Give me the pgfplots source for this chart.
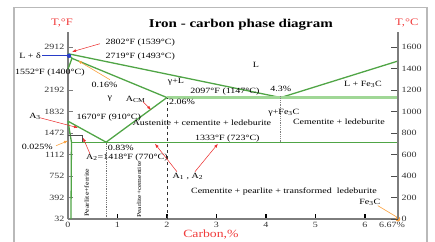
\documentclass[border=0pt]{standalone}
\usepackage{fontspec}
\setmainfont[FakeStretch=1.25]{Liberation Serif}
\usepackage{pgfplots}
\pgfplotsset{compat=1.18}
\usetikzlibrary{arrows.meta}
\definecolor{grn}{RGB}{80,165,70}
\definecolor{lgrn}{RGB}{160,215,150}
\definecolor{arr}{RGB}{235,40,40}
\definecolor{org}{RGB}{250,160,60}
\definecolor{blu}{RGB}{40,60,200}
\definecolor{axg}{RGB}{125,125,125}
\definecolor{ttl}{RGB}{240,60,60}
\definecolor{txt}{RGB}{50,50,50}
\begin{document}
\begin{tikzpicture}[font=\fontsize{8}{9}\selectfont]
\path[use as bounding box] (-68pt,-22pt) rectangle (367pt,219pt);
\begin{axis}[at={(0,0)}, anchor=south west, scale only axis, width=330pt, height=187pt,
 xmin=0, xmax=6.67, ymin=0, ymax=1740, clip=false,
 axis x line=bottom, axis y line=left, axis line style={-, axg, line width=1.3pt},
 xtick={0,1,2,3,4,5,6,6.67}, xticklabels={0,1,2,3,4,5,6,{\raisebox{-2pt}{\hspace*{-12pt}6.67\%}}},
 ytick={0,200,400,600,800,1000,1200,1600},
 yticklabels={32,392,752,1112,1472,1832,2192,2912},
 tick align=inside,
 x tick style={black, line width=1.5pt}, y tick style={axg, line width=1pt},
 major tick length=5pt,
 tick label style={font=\fontsize{8}{9}\selectfont, text=txt},
 /pgf/number format/assume math mode=true,
 every node/.append style={text=txt},
]
% phase boundaries
\addplot[grn, line width=1.3pt] coordinates {(0,1538) (4.3,1130) (6.67,1470)};
\addplot[grn, line width=1.3pt] coordinates {(0.08,1495) (2.0,1130)};
\addplot[grn, line width=1.3pt] coordinates {(0,1394) (0.08,1495) (0,1538)};
\addplot[grn, line width=1.3pt] coordinates {(0,910) (0.77,715) (2.0,1130)};
\addplot[grn, line width=1.3pt] coordinates {(0,910) (0.07,715) (0.06,0)};
\addplot[lgrn, line width=2.4pt] coordinates {(2.0,1130) (6.67,1130)};
\addplot[grn, line width=1.3pt] coordinates {(0.07,715) (6.67,715)};
\addplot[black!70, line width=0.6pt] coordinates {(0,775) (0.28,775) (0.28,715)};
% guide lines
\addplot[black!55, densely dotted, line width=0.8pt] coordinates {(0.77,0) (0.77,715)};
\addplot[black!80, dashed, line width=0.8pt] coordinates {(2.0,0) (2.0,1130)};
\addplot[black!50, densely dotted, line width=0.8pt] coordinates {(4.3,715) (4.3,1150)};
% points
\addplot[only marks, mark=*, mark size=2pt, blu] coordinates {(0.02,1519)};
\addplot[only marks, mark=*, mark size=2.2pt, org] coordinates {(6.667,0)};
% frame
\draw[gray!55, line width=1.5pt] (axis cs:-1.091,-260) -- (axis cs:-1.091,1966) -- (axis cs:7.253,1966) -- (axis cs:7.253,-260);
% titles
\node[font=\fontsize{12}{14}\bfseries\selectfont, text=black] at (axis cs:3.495,1807) {Iron - carbon phase diagram};
\node[font=\fontsize{10}{12}\selectfont, text=ttl] at (axis cs:-0.121,1826) {T,°F};
\node[font=\fontsize{10}{12}\selectfont, text=ttl] at (axis cs:6.848,1826) {T,°C};
\node[font=\fontsize{11}{13}\selectfont, text=ttl, inner sep=0pt] at (axis cs:2.889,-145) {Carbon,\%};
% annotations
\node[anchor=west] at (axis cs:0.687,1640) {2802°F (1539°C)};
\draw[arr, line width=0.5pt, -{Latex[length=4pt,width=3pt]}] (axis cs:0.646,1631) -- (axis cs:0.081,1556);
\node[anchor=west] at (axis cs:0.687,1510) {2719°F (1493°C)};
\node[anchor=east, inner sep=1pt] at (axis cs:-0.525,1519) {L + δ};
\draw[blu, line width=0.6pt] (axis cs:-0.525,1519) -- (axis cs:0.02,1519);
\node[anchor=west, inner sep=0pt] at (axis cs:-1.071,1361) {1552°F (1400°C)};
\node[anchor=west] at (axis cs:0.404,1249) {0.16\%};
\draw[org, line width=0.6pt, -{Latex[length=4pt,width=3pt]}] (axis cs:0.848,1296) -- (axis cs:0.202,1473);
\node at (axis cs:0.848,1119) {γ};
\node at (axis cs:1.364,1110) {A\textsubscript{CM}};
\draw[arr, line width=0.5pt, -{Latex[length=4pt,width=3pt]}] (axis cs:1.515,1091) -- (axis cs:1.677,1017);
\node at (axis cs:2.182,1277) {γ+L};
\node[anchor=west] at (axis cs:2.404,1184) {2097°F (1147°C)};
\node[anchor=west, inner sep=1pt] at (axis cs:2.02,1091) {2.06\%};
\node at (axis cs:3.798,1435) {L};
\node at (axis cs:4.303,1212) {4.3\%};
\node at (axis cs:5.96,1249) {L + Fe\textsubscript{3}C};
\node at (axis cs:4.364,990) {γ+Fe\textsubscript{3}C};
\node at (axis cs:2.707,900) {Austenite + cementite + ledeburite};
\node at (axis cs:5.475,905) {Cementite + ledeburite};
\node[anchor=west] at (axis cs:0.101,942) {1670°F (910°C)};
\node at (axis cs:-0.667,952) {A\textsubscript{3}};
\draw[arr, line width=0.5pt, -{Latex[length=4pt,width=3pt]}] (axis cs:-0.566,942) -- (axis cs:0.202,849);
\node[anchor=east, inner sep=1pt] at (axis cs:-0.283,673) {0.025\%};
\draw[org, line width=0.6pt, -{Latex[length=4pt,width=3pt]}] (axis cs:-0.242,682) -- (axis cs:0,728);
\node[anchor=west, inner sep=1pt] at (axis cs:0.78,663) {0.83\%};
\node[anchor=west, inner sep=1pt] at (axis cs:0.343,570) {A\textsubscript{2}=1418°F (770°C)};
\draw[arr, line width=0.5pt, -{Latex[length=4pt,width=3pt]}] (axis cs:0.444,607) -- (axis cs:0.303,756);
\node[anchor=west, inner sep=1pt] at (axis cs:2.545,750) {1333°F (723°C)};
\node at (axis cs:2.424,394) {A\textsubscript{1} , A\textsubscript{2}};
\draw[arr, line width=0.5pt, -{Latex[length=4pt,width=3pt]}] (axis cs:2.202,440) -- (axis cs:1.758,700);
\draw[arr, line width=0.5pt, -{Latex[length=4pt,width=3pt]}] (axis cs:2.566,440) -- (axis cs:3.03,700);
\node[rotate=90, font=\fontsize{6.3}{7}\selectfont] at (axis cs:0.38,245) {Pearlite+ferrite};
\node[rotate=90, font=\fontsize{6}{7}\selectfont] at (axis cs:1.434,273) {Pearlite+cementite};
\node at (axis cs:4.364,254) {Cementite + pearlite + transformed\ \ ledeburite};
\node at (axis cs:6.101,152) {Fe\textsubscript{3}C};
\draw[org, line width=0.6pt] (axis cs:6.263,124) -- (axis cs:6.667,12);
\end{axis}
\begin{axis}[at={(0,0)}, anchor=south west, scale only axis, width=330pt, height=187pt,
 xmin=0, xmax=6.67, ymin=0, ymax=1740,
 axis x line=none, axis y line*=right, axis line style={-, axg, line width=1.3pt},
 xtick=\empty, ytick={0,200,400,600,800,1000,1200,1400,1600},
 tick align=inside, major tick length=7pt,
 y tick style={black!70, line width=1pt},
 tick label style={font=\fontsize{8}{9}\selectfont, text=txt},
 /pgf/number format/assume math mode=true,
 /pgf/number format/1000 sep={},
]
\addplot[draw=none] coordinates {(0,0)};
\end{axis}
\end{tikzpicture}
\end{document}
